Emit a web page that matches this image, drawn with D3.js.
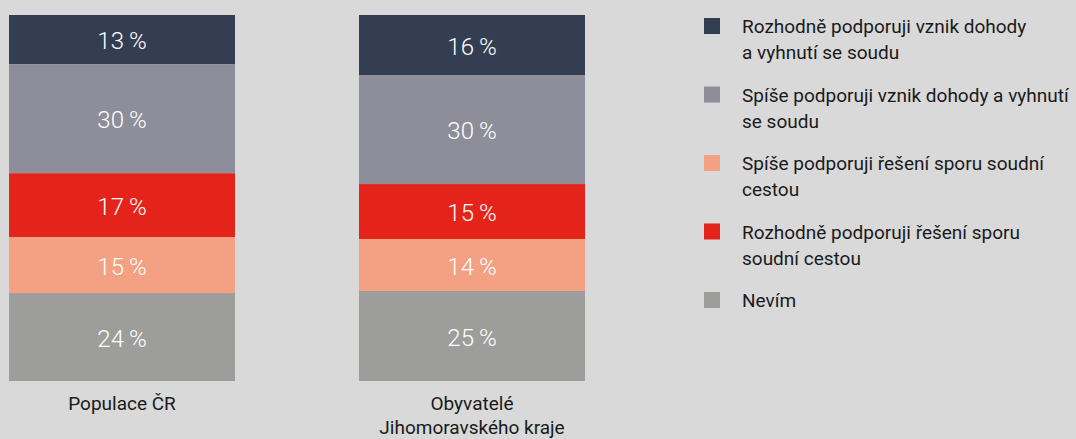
<!DOCTYPE html>
<html>
<head>
<meta charset="utf-8">
<script src="https://cdn.jsdelivr.net/npm/d3@7"></script>
<style>
  html, body { margin: 0; padding: 0; background: #d9d9d9; }
  svg { display: block; font-family: Roboto, "Noto Sans", sans-serif; }
</style>
</head>
<body>
<svg id="chart" width="1076" height="439"></svg>
<script>
// data
const categories = ["Populace ČR", "Obyvatelé Jihomoravského kraje"]
const categoryLines = [["Populace ČR"], ["Obyvatelé", "Jihomoravského kraje"]]
const keys = ["rozhodneDohoda", "spiseDohoda", "rozhodneSoud", "spiseSoud", "nevim"]
const valuesCR = [13.4, 29.8, 17.4, 15.3, 24.0]
const valuesJMK = [16.4, 29.8, 15.0, 14.2, 24.6]
const colors = ["#333e52", "#8e8e9b", "#e4241b", "#f4a083", "#9d9d9b"]
const legendOrder = ["rozhodneDohoda", "spiseDohoda", "spiseSoud", "rozhodneSoud", "nevim"]
const legendLines = {
    rozhodneDohoda: ["Rozhodně podporuji vznik dohody", "a vyhnutí se soudu"],
    spiseDohoda: ["Spíše podporuji vznik dohody a vyhnutí", "se soudu"],
    spiseSoud: ["Spíše podporuji řešení sporu soudní", "cestou"],
    rozhodneSoud: ["Rozhodně podporuji řešení sporu", "soudní cestou"],
    nevim: ["Nevím"]
}

// build table, each row normalised to 100 %
const table = [valuesCR, valuesJMK].map((vals, i) => {
    const sum = d3.sum(vals)
    const row = { category: categories[i] }
    keys.forEach((k, j) => { row[k] = vals[j] / sum * 100; row[k + "_label"] = Math.round(vals[j]) })
    return row
})

const svg = d3.select("#chart")
const color = d3.scaleOrdinal().domain(keys).range(colors)

const x = d3.scaleBand()
    .domain(categories)
    .range([9, 585])
    .paddingInner(124 / 350)
    .paddingOuter(0)

const y = d3.scaleLinear()
    .domain([0, 100])
    .range([15, 381])

const series = d3.stack().keys(keys)(table)

const layer = svg.append("g")
  .selectAll("g")
  .data(series)
  .join("g")
    .attr("fill", d => color(d.key))

layer.selectAll("rect")
  .data(d => d)
  .join("rect")
    .attr("x", d => x(d.data.category))
    .attr("y", d => y(d[0]))
    .attr("width", x.bandwidth())
    .attr("height", d => y(d[1]) - y(d[0]))

// percent labels
svg.append("g")
  .selectAll("g")
  .data(series)
  .join("g")
  .selectAll("text")
  .data(d => d.map(v => ({ v, key: d.key })))
  .join("text")
    .attr("x", d => x(d.v.data.category) + x.bandwidth() / 2)
    .attr("y", d => (y(d.v[0]) + y(d.v[1])) / 2 + 1)
    .attr("dy", "0.36em")
    .attr("text-anchor", "middle")
    .attr("fill", "#fff")
    .style("font-size", "24px")
    .style("font-weight", 300)
    .text(d => `${d.v.data[d.key + "_label"]}\u2009%`)

// category labels
svg.append("g")
  .selectAll("text")
  .data(categories)
  .join("text")
    .attr("x", d => x(d) + x.bandwidth() / 2)
    .attr("y", 410)
    .attr("text-anchor", "middle")
    .attr("fill", "#1a1a1a")
    .style("font-size", "19px")
  .selectAll("tspan")
  .data((d, i) => categoryLines[i])
  .join("tspan")
    .attr("x", function () { return this.parentNode.getAttribute("x") })
    .attr("dy", (d, i) => i === 0 ? 0 : 24)
    .text(d => d)

// legend
const legend = svg.append("g")
    .attr("class", "legend")
    .attr("transform", "translate(704,18)")

const item = legend.selectAll("g")
  .data(legendOrder)
  .join("g")
    .attr("transform", (d, i) => `translate(0,${i * 68.5})`)

item.append("rect")
    .attr("width", 16)
    .attr("height", 16)
    .attr("fill", d => color(d))

item.append("text")
    .attr("x", 38)
    .attr("y", 15)
    .attr("fill", "#1a1a1a")
    .style("font-size", "19px")
  .selectAll("tspan")
  .data(d => legendLines[d])
  .join("tspan")
    .attr("x", 38)
    .attr("dy", (d, i) => i === 0 ? 0 : 26)
    .text(d => d)
</script>
</body>
</html>
